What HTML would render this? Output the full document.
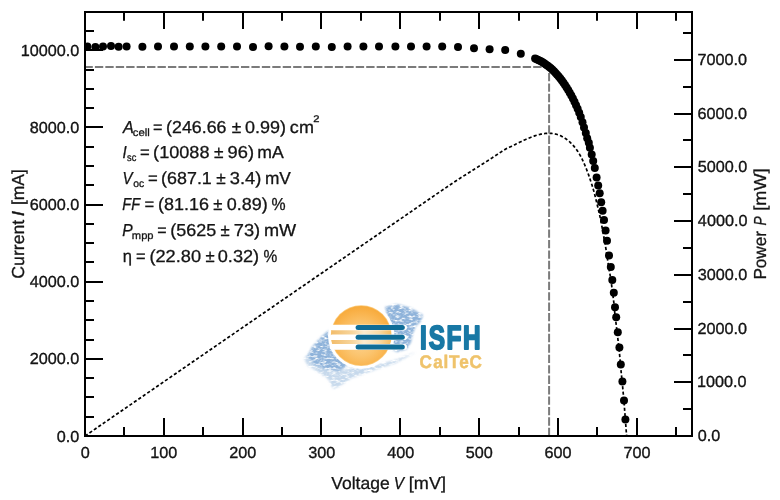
<!DOCTYPE html>
<html lang="en"><head><meta charset="utf-8"><title>I-V curve</title>
<style>html,body{margin:0;padding:0;background:#fff}body{width:780px;height:500px;overflow:hidden}svg{display:block}</style>
</head><body>
<svg width="780" height="500" viewBox="0 0 780 500" font-family="'Liberation Sans', sans-serif" text-rendering="geometricPrecision">
<rect width="780" height="500" fill="#fff"/>
<defs>
<radialGradient id="sunG" cx="361" cy="340" r="36" gradientUnits="userSpaceOnUse">
<stop offset="0" stop-color="#fdd595"/><stop offset="0.45" stop-color="#fbc46e"/><stop offset="0.8" stop-color="#f9b148"/><stop offset="1" stop-color="#f6a735"/>
</radialGradient>
<linearGradient id="bandG" x1="331" y1="0" x2="391" y2="0" gradientUnits="userSpaceOnUse">
<stop offset="0" stop-color="#f2bc6a"/><stop offset="0.35" stop-color="#f7d59c"/><stop offset="0.55" stop-color="#fcebcf"/><stop offset="0.8" stop-color="#fadaa5"/><stop offset="1" stop-color="#f7bd62"/>
</linearGradient>
<clipPath id="sunC"><circle cx="361.2" cy="335.6" r="30"/></clipPath>
<filter id="brushF" x="-10%" y="-10%" width="120%" height="120%">
<feGaussianBlur in="SourceGraphic" stdDeviation="1.3" result="soft"/>
<feTurbulence type="fractalNoise" baseFrequency="0.22 0.5" numOctaves="2" seed="11" result="n"/>
<feColorMatrix in="n" type="matrix" values="0 0 0 0 0  0 0 0 0 0  0 0 0 0 0  0 0 0 -2.8 2.25" result="m"/>
<feComposite in="soft" in2="m" operator="in"/>
</filter>
</defs>
<g id="logo">
<g filter="url(#brushF)" fill="#8fb3da">
<path d="M307.5 356L312 347L320 338L328 331L335 327L340 336L343 352L347 366L339 371L326 369.5L315 365Z"/>
<path d="M385 307L397 304L411 308L423 315L421 321L416 326L413 333L411 342L407 349L397 352L389 348L390 326Z"/>
<path opacity="0.5" d="M304 359L309 352L318 366L330 371L344 370L352 367L372 366L395 360L416 352L396 363L372 371L352 378L340 386L333 389L329 380L318 372L308 366Z"/>
</g>
<circle cx="361.2" cy="335.6" r="33.2" fill="#fff"/>
<circle cx="361.2" cy="335.6" r="30.4" fill="#fbcb7c"/>
<circle cx="361.2" cy="335.6" r="29.7" fill="url(#sunG)"/>
<g clip-path="url(#sunC)"><rect x="331" y="325" width="61" height="24.4" fill="url(#bandG)"/></g>
<g fill="#fff">
<rect x="329.6" y="324.7" width="77.4" height="5.6" rx="2.8"/>
<rect x="329.6" y="334.4" width="77.4" height="5.6" rx="2.8"/>
<rect x="329.6" y="344.1" width="77.4" height="5.6" rx="2.8"/>
</g>
<g fill="#0f6d98">
<rect x="355.6" y="325.0" width="49.2" height="5" rx="2.5"/>
<rect x="355.6" y="334.7" width="49.2" height="5" rx="2.5"/>
<rect x="355.6" y="344.4" width="49.2" height="5" rx="2.5"/>
</g>
<g font-weight="bold" stroke-linejoin="round">
<text transform="translate(0 349.1) scale(0.73 1)" x="575.34 587.40 611.71 634.41" y="0" font-size="33.4" fill="#1878a5" stroke="#1878a5" stroke-width="2">ISFH</text>
<text transform="translate(0 367.5) scale(0.94 1)" x="446.34 460.81 471.91 477.59 488.68 499.38" y="0" font-size="18.2" fill="#efc36b" stroke="#efc36b" stroke-width="0.5">CalTeC</text>
</g>
</g>

<path fill="none" stroke="#000" stroke-width="1.7" stroke-dasharray="3.2 2.2" d="M85 436 L94.87 429.21 L104.74 422.41 L114.62 415.62 L124.49 408.83 L134.36 402.04 L144.23 395.24 L154.1 388.45 L163.97 381.66 L173.85 374.86 L183.72 368.07 L193.59 361.28 L203.46 354.48 L213.33 347.69 L223.21 340.9 L233.08 334.11 L242.95 327.31 L252.82 320.52 L262.69 313.73 L272.56 306.93 L282.44 300.14 L292.31 293.35 L302.18 286.55 L312.05 279.76 L321.92 272.97 L331.79 266.18 L341.67 259.38 L351.54 252.59 L361.41 245.8 L371.28 239 L381.15 232.21 L391.03 225.42 L400.9 218.62 L410.77 211.83 L420.64 205.04 L430.51 198.25 L440.38 191.45 L450.26 184.76 L460.13 178.19 L470 171.94 L470.6 171.56 L471.21 171.18 L471.81 170.8 L472.42 170.42 L473.02 170.04 L473.63 169.66 L474.23 169.27 L474.84 168.89 L475.44 168.51 L476.05 168.12 L476.65 167.74 L477.26 167.36 L477.86 166.98 L478.46 166.59 L479.07 166.21 L479.67 165.83 L480.28 165.45 L480.88 165.07 L481.49 164.68 L482.09 164.3 L482.7 163.92 L483.3 163.54 L483.91 163.15 L484.51 162.77 L485.12 162.39 L485.72 162 L486.33 161.62 L486.93 161.23 L487.53 160.84 L488.14 160.46 L488.74 160.07 L489.35 159.68 L489.95 159.29 L490.56 158.9 L491.16 158.5 L491.77 158.11 L492.37 157.71 L492.98 157.31 L493.58 156.91 L494.19 156.51 L494.79 156.11 L495.39 155.71 L496 155.31 L496.6 154.9 L497.21 154.5 L497.81 154.1 L498.42 153.7 L499.02 153.3 L499.63 152.9 L500.23 152.51 L500.84 152.11 L501.44 151.72 L502.05 151.33 L502.65 150.94 L503.25 150.55 L503.86 150.17 L504.46 149.79 L505.07 149.41 L505.67 149.04 L506.28 148.68 L506.88 148.39 L507.49 148.15 L508.09 147.88 L508.7 147.6 L509.3 147.32 L509.91 147.04 L510.51 146.75 L511.12 146.46 L511.72 146.17 L512.32 145.88 L512.93 145.59 L513.53 145.29 L514.14 145 L514.74 144.7 L515.35 144.41 L515.95 144.11 L516.56 143.82 L517.16 143.52 L517.77 143.23 L518.37 142.93 L518.98 142.64 L519.58 142.35 L520.18 142.05 L520.79 141.76 L521.39 141.47 L522 141.19 L522.6 140.9 L523.21 140.62 L523.81 140.33 L524.42 140.06 L525.02 139.78 L525.63 139.51 L526.23 139.23 L526.84 138.97 L527.44 138.7 L528.04 138.44 L528.65 138.19 L529.25 137.93 L529.86 137.69 L530.46 137.44 L531.07 137.2 L531.67 136.97 L532.28 136.74 L532.88 136.52 L533.49 136.3 L534.09 136.08 L534.7 135.88 L535.3 135.68 L535.91 135.48 L536.51 135.3 L537.11 135.11 L537.72 134.94 L538.32 134.77 L538.93 134.62 L539.53 134.46 L540.14 134.32 L540.74 134.19 L541.35 134.06 L541.95 133.94 L542.56 133.83 L543.16 133.73 L543.77 133.64 L544.37 133.56 L544.97 133.49 L545.58 133.43 L546.18 133.37 L546.79 133.33 L547.39 133.3 L548 133.28 L548.6 133.27 L549.21 133.28 L549.81 133.29 L550.42 133.32 L551.02 133.36 L551.63 133.41 L552.23 133.47 L552.83 133.55 L553.44 133.64 L554.04 133.74 L554.65 133.86 L555.25 133.99 L555.86 134.14 L556.46 134.3 L557.07 134.47 L557.67 134.66 L558.28 134.86 L558.88 135.08 L559.49 135.32 L560.09 135.57 L560.69 135.84 L561.3 136.12 L561.9 136.42 L562.51 136.74 L563.11 137.07 L563.72 137.42 L564.32 137.79 L564.93 138.18 L565.53 138.59 L566.14 139.01 L566.74 139.46 L567.35 139.92 L567.95 140.4 L568.56 140.9 L569.16 141.43 L569.76 141.97 L570.37 142.53 L570.97 143.11 L571.58 143.72 L572.18 144.34 L572.79 144.99 L573.39 145.66 L574 146.36 L574.6 147.09 L575.21 147.85 L575.81 148.63 L576.42 149.45 L577.02 150.31 L577.62 151.2 L578.23 152.13 L578.83 153.1 L579.44 154.11 L580.04 155.17 L580.65 156.27 L581.25 157.41 L581.86 158.6 L582.46 159.83 L583.07 161.12 L583.67 162.44 L584.28 163.81 L584.88 165.22 L585.48 166.69 L586.09 168.19 L586.69 169.74 L587.3 171.33 L587.9 172.97 L588.51 174.65 L589.11 176.37 L589.72 178.13 L590.32 179.94 L590.93 181.78 L591.53 183.67 L592.14 185.6 L592.74 187.53 L593.35 189.51 L593.95 191.61 L594.55 193.87 L595.16 196.26 L595.76 198.75 L596.37 201.25 L596.97 203.75 L597.58 206.29 L598.18 208.84 L598.79 211.34 L599.39 213.88 L600 216.65 L600.6 219.66 L601.21 222.76 L601.81 225.85 L602.41 229.02 L603.02 232.33 L603.62 235.77 L604.23 239.17 L604.83 242.48 L605.44 245.89 L606.04 249.63 L606.65 253.63 L607.25 257.57 L607.86 261.53 L608.46 265.43 L609.07 269.16 L609.67 272.51 L610.27 275.79 L610.88 279.51 L611.48 284.06 L612.09 288.97 L612.69 293.57 L613.3 298.01 L613.9 303.17 L614.51 310.08 L615.11 316.34 L615.72 320.89 L616.32 325.47 L616.93 330.59 L617.53 335.9 L618.14 341.16 L618.74 346.37 L619.34 351.97 L619.95 358.53 L620.55 365.59 L621.16 371.99 L621.76 377.93 L622.37 384 L622.97 390.44 L623.58 397.15 L624.18 404.3 L624.79 412.06 L625.39 420.03 L626 427.97 L626.6 436"/>
<clipPath id="plotC"><rect x="85" y="12" width="607" height="424"/></clipPath>
<g fill="none" stroke="#7b7b7b" stroke-width="2" stroke-dasharray="8.35 2.085">
<path d="M84.46 67H549.1"/>
<path d="M549.1 62.56V436"/>
</g>
<g fill="#000" clip-path="url(#plotC)">
<circle cx="87.4" cy="46.6" r="4"/>
<circle cx="95.4" cy="47" r="4"/>
<circle cx="103" cy="46.6" r="4"/>
<circle cx="111" cy="46" r="4"/>
<circle cx="118.6" cy="46.8" r="4"/>
<circle cx="126.6" cy="46.6" r="4"/>
<circle cx="142.4" cy="46.8" r="4"/>
<circle cx="158" cy="46.4" r="4"/>
<circle cx="174" cy="46.6" r="4"/>
<circle cx="189.8" cy="46.6" r="4"/>
<circle cx="205.4" cy="46.4" r="4"/>
<circle cx="221.2" cy="46.6" r="4"/>
<circle cx="237" cy="46.4" r="4"/>
<circle cx="253" cy="47" r="4"/>
<circle cx="268.6" cy="46.2" r="4"/>
<circle cx="284.4" cy="46.4" r="4"/>
<circle cx="300" cy="46.8" r="4"/>
<circle cx="315.8" cy="46.4" r="4"/>
<circle cx="331.8" cy="47" r="4"/>
<circle cx="347.6" cy="46.6" r="4"/>
<circle cx="363.4" cy="46.6" r="4"/>
<circle cx="379" cy="46.4" r="4"/>
<circle cx="395.4" cy="46.4" r="4"/>
<circle cx="411" cy="46.4" r="4"/>
<circle cx="426.6" cy="46.4" r="4"/>
<circle cx="442.2" cy="46.4" r="4"/>
<circle cx="458" cy="47" r="4"/>
<circle cx="474" cy="48.2" r="4"/>
<circle cx="489.6" cy="49.3" r="4"/>
<circle cx="505.2" cy="50" r="4"/>
<circle cx="520.8" cy="53.7" r="4"/>
<circle cx="535.1" cy="58.5" r="4"/>
<circle cx="536.68" cy="59.19" r="4"/>
<circle cx="538.25" cy="59.94" r="4"/>
<circle cx="539.83" cy="60.75" r="4"/>
<circle cx="541.4" cy="61.61" r="4"/>
<circle cx="542.98" cy="62.54" r="4"/>
<circle cx="544.55" cy="63.55" r="4"/>
<circle cx="546.13" cy="64.63" r="4"/>
<circle cx="547.7" cy="65.78" r="4"/>
<circle cx="549.28" cy="67.02" r="4"/>
<circle cx="550.85" cy="68.35" r="4"/>
<circle cx="552.43" cy="69.77" r="4"/>
<circle cx="554" cy="71.29" r="4"/>
<circle cx="555.58" cy="72.91" r="4"/>
<circle cx="557.15" cy="74.64" r="4"/>
<circle cx="558.73" cy="76.47" r="4"/>
<circle cx="560.3" cy="78.42" r="4"/>
<circle cx="561.88" cy="80.48" r="4"/>
<circle cx="563.45" cy="82.67" r="4"/>
<circle cx="565.03" cy="84.99" r="4"/>
<circle cx="566.6" cy="87.43" r="4"/>
<circle cx="568.18" cy="90.01" r="4"/>
<circle cx="569.75" cy="92.74" r="4"/>
<circle cx="571.33" cy="95.6" r="4"/>
<circle cx="572.9" cy="98.62" r="4"/>
<circle cx="574.48" cy="101.81" r="4"/>
<circle cx="576.05" cy="105.21" r="4"/>
<circle cx="577.63" cy="108.85" r="4"/>
<circle cx="579.2" cy="112.76" r="4"/>
<circle cx="580.78" cy="116.98" r="4"/>
<circle cx="582.5" cy="122.2" r="4"/>
<circle cx="584" cy="127.6" r="4"/>
<circle cx="585.8" cy="133" r="4"/>
<circle cx="587.2" cy="138.2" r="4"/>
<circle cx="588.8" cy="142.7" r="4"/>
<circle cx="589.9" cy="147.8" r="4"/>
<circle cx="591.7" cy="154.5" r="4"/>
<circle cx="593.2" cy="161.1" r="4"/>
<circle cx="594.8" cy="168" r="4"/>
<circle cx="596.6" cy="177.4" r="4"/>
<circle cx="598.2" cy="185.6" r="4"/>
<circle cx="599.7" cy="193.3" r="4"/>
<circle cx="601.2" cy="202.2" r="4"/>
<circle cx="602.6" cy="210.8" r="4"/>
<circle cx="604" cy="220" r="4"/>
<circle cx="605.6" cy="230.4" r="4"/>
<circle cx="607" cy="240.8" r="4"/>
<circle cx="609" cy="255.4" r="4"/>
<circle cx="610.8" cy="267" r="4"/>
<circle cx="612.3" cy="280" r="4"/>
<circle cx="613.8" cy="292.8" r="4"/>
<circle cx="615" cy="307.2" r="4"/>
<circle cx="616.2" cy="317.2" r="4"/>
<circle cx="617.8" cy="332.2" r="4"/>
<circle cx="619.4" cy="347.6" r="4"/>
<circle cx="620.8" cy="364.5" r="4"/>
<circle cx="622.4" cy="381.6" r="4"/>
<circle cx="624" cy="400.4" r="4"/>
<circle cx="625.4" cy="419.4" r="4"/>
</g>
<g fill="none" stroke="#000" stroke-width="2">
<rect x="85" y="12" width="607" height="424"/>
<path d="M124 436v-9M124 12v8.7M164 436v-18M164 12v17M203 436v-9M203 12v8.7M243 436v-18M243 12v17M282 436v-9M282 12v8.7M321 436v-18M321 12v17M361 436v-9M361 12v8.7M400 436v-18M400 12v17M440 436v-9M440 12v8.7M479 436v-18M479 12v17M519 436v-9M519 12v8.7M558 436v-18M558 12v17M597 436v-9M597 12v8.7M637 436v-18M637 12v17M676 436v-9M676 12v8.7M85 417h9M85 397h9M85 378h9M85 359h18M85 340h9M85 320h9M85 301h9M85 282h18M85 262h9M85 243h9M85 224h9M85 205h18M85 185h9M85 166h9M85 147h9M85 127h18M85 108h9M85 89h9M85 70h9M85 50h18M85 31h9M692 409h-9M692 382h-18M692 355h-9M692 329h-18M692 302h-9M692 275h-18M692 248h-9M692 221h-18M692 194h-9M692 167h-18M692 140h-9M692 114h-18M692 87h-9M692 60h-18M692 33h-9"/>
</g>
<g fill="#141414" stroke="#141414" stroke-width="0.3" stroke-linejoin="round">
<g stroke="#141414" stroke-width="0.35">
<text x="56.73" y="441.5" font-size="16" textLength="22.52" lengthAdjust="spacingAndGlyphs">0.0</text>
<text x="29.68" y="364.36" font-size="16" textLength="49.55" lengthAdjust="spacingAndGlyphs">2000.0</text>
<text x="29.68" y="287.22" font-size="16" textLength="49.55" lengthAdjust="spacingAndGlyphs">4000.0</text>
<text x="29.68" y="210.08" font-size="16" textLength="49.55" lengthAdjust="spacingAndGlyphs">6000.0</text>
<text x="29.68" y="132.94" font-size="16" textLength="49.55" lengthAdjust="spacingAndGlyphs">8000.0</text>
<text x="20.68" y="55.8" font-size="16" textLength="58.56" lengthAdjust="spacingAndGlyphs">10000.0</text>
<text x="697.65" y="441" font-size="16" textLength="22.52" lengthAdjust="spacingAndGlyphs">0.0</text>
<text x="697.08" y="387.27" font-size="16" textLength="49.55" lengthAdjust="spacingAndGlyphs">1000.0</text>
<text x="697.49" y="333.54" font-size="16" textLength="49.55" lengthAdjust="spacingAndGlyphs">2000.0</text>
<text x="697.65" y="279.81" font-size="16" textLength="49.55" lengthAdjust="spacingAndGlyphs">3000.0</text>
<text x="697.89" y="226.08" font-size="16" textLength="49.55" lengthAdjust="spacingAndGlyphs">4000.0</text>
<text x="697.65" y="172.35" font-size="16" textLength="49.55" lengthAdjust="spacingAndGlyphs">5000.0</text>
<text x="697.49" y="118.62" font-size="16" textLength="49.55" lengthAdjust="spacingAndGlyphs">6000.0</text>
<text x="697.49" y="64.89" font-size="16" textLength="49.55" lengthAdjust="spacingAndGlyphs">7000.0</text>
<text x="80.7" y="457.7" font-size="16" textLength="9.01" lengthAdjust="spacingAndGlyphs">0</text>
<text x="150.26" y="457.7" font-size="16" textLength="27.03" lengthAdjust="spacingAndGlyphs">100</text>
<text x="229.29" y="457.7" font-size="16" textLength="27.03" lengthAdjust="spacingAndGlyphs">200</text>
<text x="308.21" y="457.7" font-size="16" textLength="27.03" lengthAdjust="spacingAndGlyphs">300</text>
<text x="387.16" y="457.7" font-size="16" textLength="27.03" lengthAdjust="spacingAndGlyphs">400</text>
<text x="465.87" y="457.7" font-size="16" textLength="27.03" lengthAdjust="spacingAndGlyphs">500</text>
<text x="544.62" y="457.7" font-size="16" textLength="27.03" lengthAdjust="spacingAndGlyphs">600</text>
<text x="623.45" y="457.7" font-size="16" textLength="27.03" lengthAdjust="spacingAndGlyphs">700</text>
</g>
<g>
<text x="331.21" y="489.3" font-size="17.4" textLength="58.5" lengthAdjust="spacingAndGlyphs">Voltage</text>
<text x="393.69" y="489.3" font-size="17.4" textLength="10.31" lengthAdjust="spacingAndGlyphs" font-style="italic">V</text>
<text x="408.84" y="489.3" font-size="17.4" textLength="37.14" lengthAdjust="spacingAndGlyphs">[mV]</text>
</g>
<g>
<text transform="translate(24.1 0) rotate(-90)" x="-278.68" y="0" font-size="17.4" textLength="58.85" lengthAdjust="spacingAndGlyphs">Current</text>
<text transform="translate(24.1 0) rotate(-90)" x="-216.15" y="0" font-size="17.4" textLength="5.19" lengthAdjust="spacingAndGlyphs" font-style="italic">I</text>
<text transform="translate(24.1 0) rotate(-90)" x="-205.02" y="0" font-size="17.4" textLength="35.85" lengthAdjust="spacingAndGlyphs">[mA]</text>
</g>
<g>
<text transform="translate(765.9 0) rotate(-90)" x="-279.57" y="0" font-size="17.4" textLength="48.5" lengthAdjust="spacingAndGlyphs">Power</text>
<text transform="translate(765.9 0) rotate(-90)" x="-225.61" y="0" font-size="17.4" textLength="9.11" lengthAdjust="spacingAndGlyphs" font-style="italic">P</text>
<text transform="translate(765.9 0) rotate(-90)" x="-210.67" y="0" font-size="17.4" textLength="42.18" lengthAdjust="spacingAndGlyphs">[mW]</text>
</g>
<g>
<text x="123.11" y="132.9" font-size="17.3" textLength="10.83" lengthAdjust="spacingAndGlyphs" font-style="italic">A</text>
<text x="132.79" y="136.1" font-size="10.6" textLength="17.06" lengthAdjust="spacingAndGlyphs">cell</text>
<text x="153.09" y="132.9" font-size="17.3" textLength="9.51" lengthAdjust="spacingAndGlyphs">=</text>
<text x="166.13" y="132.9" font-size="17.3" textLength="60.3" lengthAdjust="spacingAndGlyphs">(246.66</text>
<text x="231.68" y="132.9" font-size="17.3" textLength="9.52" lengthAdjust="spacingAndGlyphs">±</text>
<text x="244.98" y="132.9" font-size="17.3" textLength="40.98" lengthAdjust="spacingAndGlyphs">0.99)</text>
<text x="289.89" y="132.9" font-size="17.3" textLength="24.04" lengthAdjust="spacingAndGlyphs">cm</text>
<text x="313.34" y="122.4" font-size="9.6" textLength="6.23" lengthAdjust="spacingAndGlyphs">2</text>
</g>
<g>
<text x="122.6" y="157.8" font-size="17.3" textLength="4.2" lengthAdjust="spacingAndGlyphs" font-style="italic">I</text>
<text x="127.12" y="161" font-size="10.6" textLength="9.31" lengthAdjust="spacingAndGlyphs">sc</text>
<text x="139.96" y="157.8" font-size="17.3" textLength="9.75" lengthAdjust="spacingAndGlyphs">=</text>
<text x="153.11" y="157.8" font-size="17.3" textLength="56.39" lengthAdjust="spacingAndGlyphs">(10088</text>
<text x="213.88" y="157.8" font-size="17.3" textLength="9.52" lengthAdjust="spacingAndGlyphs">±</text>
<text x="227.58" y="157.8" font-size="17.3" textLength="26.42" lengthAdjust="spacingAndGlyphs">96)</text>
<text x="257.25" y="157.8" font-size="17.3" textLength="26.45" lengthAdjust="spacingAndGlyphs">mA</text>
</g>
<g>
<text x="122.42" y="183.7" font-size="17.3" textLength="10.01" lengthAdjust="spacingAndGlyphs" font-style="italic">V</text>
<text x="133.18" y="186.9" font-size="10.6" textLength="10.99" lengthAdjust="spacingAndGlyphs">oc</text>
<text x="148.06" y="183.7" font-size="17.3" textLength="9.75" lengthAdjust="spacingAndGlyphs">=</text>
<text x="161.13" y="183.7" font-size="17.3" textLength="50.68" lengthAdjust="spacingAndGlyphs">(687.1</text>
<text x="216.18" y="183.7" font-size="17.3" textLength="9.52" lengthAdjust="spacingAndGlyphs">±</text>
<text x="229.77" y="183.7" font-size="17.3" textLength="31.49" lengthAdjust="spacingAndGlyphs">3.4)</text>
<text x="264.88" y="183.7" font-size="17.3" textLength="25.91" lengthAdjust="spacingAndGlyphs">mV</text>
</g>
<g>
<text x="122.37" y="209.8" font-size="17.3" textLength="17.71" lengthAdjust="spacingAndGlyphs" font-style="italic">FF</text>
<text x="144.46" y="209.8" font-size="17.3" textLength="9.75" lengthAdjust="spacingAndGlyphs">=</text>
<text x="157.92" y="209.8" font-size="17.3" textLength="51" lengthAdjust="spacingAndGlyphs">(81.16</text>
<text x="213.2" y="209.8" font-size="17.3" textLength="9.18" lengthAdjust="spacingAndGlyphs">±</text>
<text x="226.68" y="209.8" font-size="17.3" textLength="40.98" lengthAdjust="spacingAndGlyphs">0.89)</text>
<text x="271.55" y="209.8" font-size="17.3" textLength="14.1" lengthAdjust="spacingAndGlyphs">%</text>
</g>
<g>
<text x="122.33" y="235.8" font-size="17.3" textLength="10.38" lengthAdjust="spacingAndGlyphs" font-style="italic">P</text>
<text x="131.88" y="239" font-size="10.6" textLength="21.67" lengthAdjust="spacingAndGlyphs">mpp</text>
<text x="157.2" y="235.8" font-size="17.3" textLength="9.39" lengthAdjust="spacingAndGlyphs">=</text>
<text x="170.32" y="235.8" font-size="17.3" textLength="45.84" lengthAdjust="spacingAndGlyphs">(5625</text>
<text x="220.4" y="235.8" font-size="17.3" textLength="9.18" lengthAdjust="spacingAndGlyphs">±</text>
<text x="233.79" y="235.8" font-size="17.3" textLength="26.41" lengthAdjust="spacingAndGlyphs">73)</text>
<text x="263.92" y="235.8" font-size="17.3" textLength="32.21" lengthAdjust="spacingAndGlyphs">mW</text>
</g>
<g>
<text x="122.67" y="261.5" font-size="17.3" textLength="9.23" lengthAdjust="spacingAndGlyphs">η</text>
<text x="136.08" y="261.5" font-size="17.3" textLength="9.63" lengthAdjust="spacingAndGlyphs">=</text>
<text x="149.41" y="261.5" font-size="17.3" textLength="51.63" lengthAdjust="spacingAndGlyphs">(22.80</text>
<text x="205.5" y="261.5" font-size="17.3" textLength="9.18" lengthAdjust="spacingAndGlyphs">±</text>
<text x="217.77" y="261.5" font-size="17.3" textLength="41.4" lengthAdjust="spacingAndGlyphs">0.32)</text>
<text x="263.56" y="261.5" font-size="17.3" textLength="13.77" lengthAdjust="spacingAndGlyphs">%</text>
</g>
</g>
</svg>
</body></html>
